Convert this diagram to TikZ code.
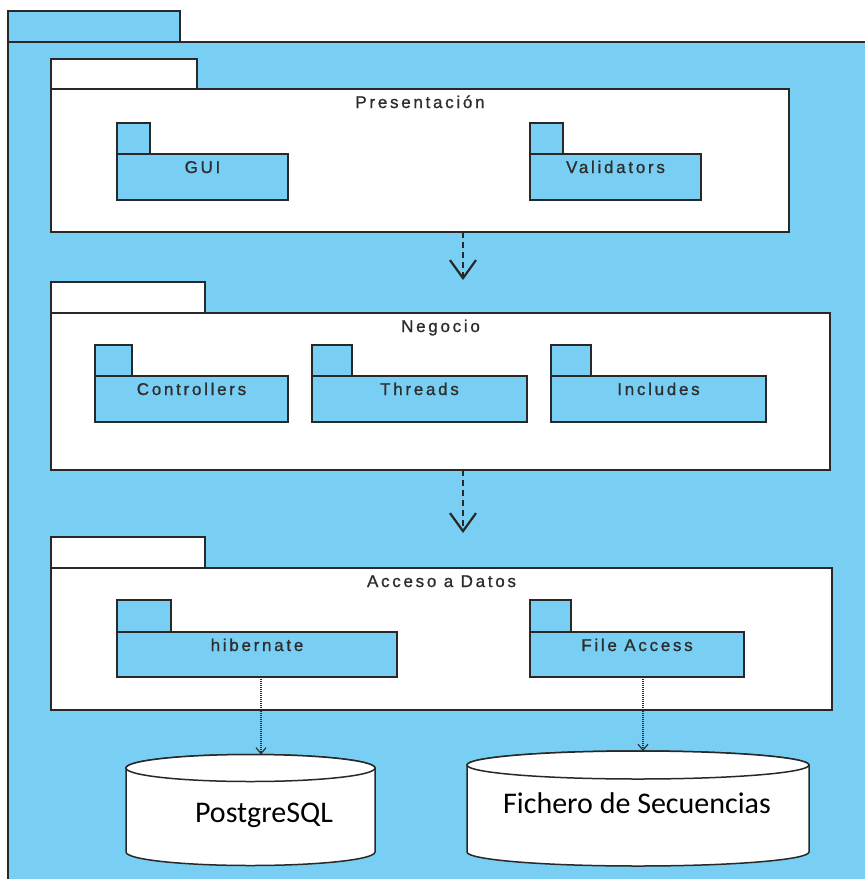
\documentclass[tikz,border=0pt]{standalone}
\usepackage{fontspec}
\newfontfamily\pkgfont[LetterSpace=16, FakeBold=1]{Liberation Sans}
\newfontfamily\dbfont{Carlito}
\usetikzlibrary{positioning,arrows.meta}

\definecolor{pkgblue}{RGB}{120,207,243}
\definecolor{pkgline}{RGB}{40,40,40}
\definecolor{pkgtext}{RGB}{45,45,45}

\tikzset{
  pkgtab/.style={draw=pkgline, line width=1.9pt, anchor=south west, inner sep=0pt, outer sep=0pt, minimum height=31},
  pkgbody/.style={draw=pkgline, line width=1.9pt, anchor=north west, inner sep=0pt, outer sep=0pt},
  pkgname/.style={anchor=base, yshift=-19pt, inner sep=0pt, text=pkgtext, font=\pkgfont\fontsize{17}{20}\selectfont},
  dbshape/.style={draw=pkgline, line width=1.5pt, fill=white},
  dbname/.style={inner sep=0pt, font=\dbfont\fontsize{30}{34}\selectfont},
  dep/.style={draw=pkgline, line width=2.2pt, dash pattern=on 6pt off 4pt, -{Straight Barb[length=18pt, width=26pt, line width=2.2pt]}},
  use/.style={draw=pkgline, line width=1.1pt, dash pattern=on 1pt off 1pt, -{Straight Barb[length=6pt, width=10pt, line width=1.1pt]}}
}

\begin{document}
\begin{tikzpicture}[x=1pt, y=-1pt]
  \useasboundingbox (0,0) rectangle (865,879);
  \clip (0,0) rectangle (865,879);
  \fill[white] (0,0) rectangle (865,879);

  % system package
  \node[pkgtab, fill=pkgblue, minimum width=172] (sysTab) at (8,42) {};
  \node[pkgbody, fill=pkgblue, minimum width=900, minimum height=900] (sys) at (8,42) {};

  % Presentacion layer
  \node[pkgtab, fill=white, minimum width=146, minimum height=30] (presTab) at (51,89) {};
  \node[pkgbody, fill=white, minimum width=738, minimum height=143] (pres) at (51,89) {};
  \node[pkgname] (presLbl) at (pres.north) {Presentación};
  \node[pkgtab, fill=pkgblue, minimum width=33] (guiTab) at (117,154) {};
  \node[pkgbody, fill=pkgblue, minimum width=171, minimum height=46] (gui) at (117,154) {};
  \node[pkgname] (guiLbl) at (gui.north) {GUI};
  \node[pkgtab, fill=pkgblue, minimum width=33] (valTab) at (530,154) {};
  \node[pkgbody, fill=pkgblue, minimum width=171, minimum height=46] (val) at (530,154) {};
  \node[pkgname] (valLbl) at (val.north) {Validators};

  % Negocio layer
  \node[pkgtab, fill=white, minimum width=154] (negTab) at (51,313) {};
  \node[pkgbody, fill=white, minimum width=779, minimum height=157] (neg) at (51,313) {};
  \node[pkgname] (negLbl) at (neg.north) {Negocio};
  \node[pkgtab, fill=pkgblue, minimum width=37] (ctrlTab) at (95,376) {};
  \node[pkgbody, fill=pkgblue, minimum width=193, minimum height=46] (ctrl) at (95,376) {};
  \node[pkgname] (ctrlLbl) at (ctrl.north) {Controllers};
  \node[pkgtab, fill=pkgblue, minimum width=40] (thrTab) at (312,376) {};
  \node[pkgbody, fill=pkgblue, minimum width=215, minimum height=46] (thr) at (312,376) {};
  \node[pkgname] (thrLbl) at (thr.north) {Threads};
  \node[pkgtab, fill=pkgblue, minimum width=40] (incTab) at (551,376) {};
  \node[pkgbody, fill=pkgblue, minimum width=215, minimum height=46] (inc) at (551,376) {};
  \node[pkgname] (incLbl) at (inc.north) {Includes};

  % Acceso a Datos layer
  \node[pkgtab, fill=white, minimum width=154] (datTab) at (51,568) {};
  \node[pkgbody, fill=white, minimum width=781, minimum height=142] (dat) at (51,568) {};
  \node[pkgname] (datLbl) at (dat.north) {Acceso a Datos};
  \node[pkgtab, fill=pkgblue, minimum width=54, minimum height=32] (hibTab) at (117,632) {};
  \node[pkgbody, fill=pkgblue, minimum width=280, minimum height=45] (hib) at (117,632) {};
  \node[pkgname] (hibLbl) at (hib.north) {hibernate};
  \node[pkgtab, fill=pkgblue, minimum width=41, minimum height=32] (fileTab) at (530,632) {};
  \node[pkgbody, fill=pkgblue, minimum width=214, minimum height=45] (file) at (530,632) {};
  \node[pkgname] (fileLbl) at (file.north) {File Access};

  % data stores
  \filldraw[dbshape] (126,768) -- (126,852) arc[start angle=180, end angle=0, x radius=124.5, y radius=13.5]
    -- (375,768) arc[start angle=0, end angle=-180, x radius=124.5, y radius=13.5] -- cycle;
  \draw[dbshape] (250.5,768) ellipse[x radius=124.5, y radius=13.5];
  \node[dbname] (pgsql) at (264,815) {PostgreSQL};
  \coordinate (pgTop) at (261,754.5);

  \filldraw[dbshape] (467,765) -- (467,852) arc[start angle=180, end angle=0, x radius=171, y radius=14]
    -- (809,765) arc[start angle=0, end angle=-180, x radius=171, y radius=14] -- cycle;
  \draw[dbshape] (638,765) ellipse[x radius=171, y radius=14];
  \node[dbname] (seq) at (637,803) {Fichero de Secuencias};
  \coordinate (seqTop) at (643,751);

  % dependencies
  \coordinate (negIn) at (463,280);
  \coordinate (datIn) at (463,533);
  \draw[dep] (pres.south -| negIn) -- (negIn);
  \draw[dep] (neg.south -| datIn) -- (datIn);
  \draw[use] (hib.south -| pgTop) -- (pgTop);
  \draw[use] (file.south -| seqTop) -- (seqTop);
\end{tikzpicture}
\end{document}
